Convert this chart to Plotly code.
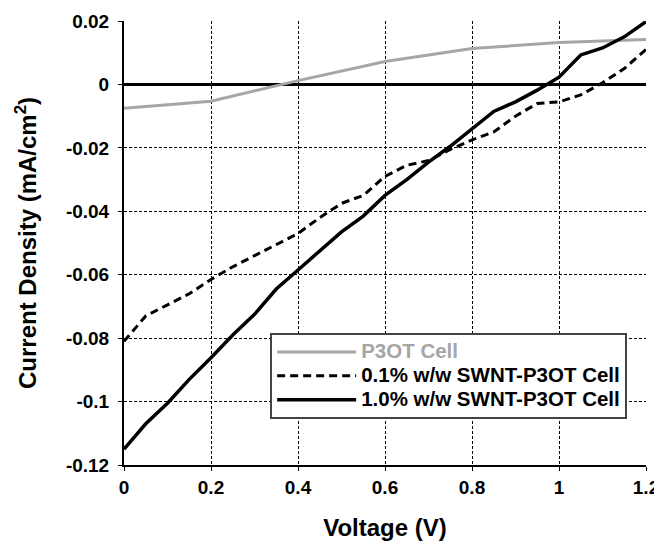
import plotly.graph_objects as go

v_p3ot = [0, 0.2, 0.4, 0.6, 0.8, 1.0, 1.2]
j_p3ot = [-0.0075, -0.0053, 0.0012, 0.0072, 0.0113, 0.0132, 0.0142]

v_01 = [0, 0.05, 0.1, 0.15, 0.2, 0.25, 0.3, 0.35, 0.4, 0.45, 0.5, 0.55, 0.6, 0.65, 0.7,
        0.75, 0.8, 0.85, 0.9, 0.95, 1.0, 1.05, 1.1, 1.15, 1.2]
j_01 = [-0.081, -0.073, -0.0695, -0.066, -0.0615, -0.0575, -0.054, -0.0505, -0.047, -0.042,
        -0.0375, -0.035, -0.029, -0.0255, -0.024, -0.0205, -0.0175, -0.015, -0.010, -0.006,
        -0.0055, -0.0033, 0.0005, 0.005, 0.011]

v_10 = v_01
j_10 = [-0.115, -0.107, -0.1005, -0.093, -0.0862, -0.079, -0.0725, -0.0645, -0.0585, -0.0525,
        -0.0465, -0.0415, -0.035, -0.030, -0.0245, -0.0195, -0.014, -0.0085, -0.0055, -0.0018,
        0.0023, 0.0093, 0.0115, 0.015, 0.0198]

names = ["P3OT Cell", "0.1% w/w SWNT-P3OT Cell", "1.0% w/w SWNT-P3OT Cell"]

x_ticks = [0, 0.2, 0.4, 0.6, 0.8, 1.0, 1.2]
x_labels = ["0", "0.2", "0.4", "0.6", "0.8", "1", "1.2"]
y_ticks = [0.02, 0, -0.02, -0.04, -0.06, -0.08, -0.1, -0.12]
y_labels = ["0.02", "0", "-0.02", "-0.04", "-0.06", "-0.08", "-0.1", "-0.12"]

FONT = "Liberation Sans, Arial, sans-serif"
GRAY = "#a6a6a6"


def lg(text, color="black"):
    return f"<span style='font-size:20.5px;color:{color}'>{text}</span>"


fig = go.Figure()
fig.add_trace(go.Scatter(x=v_p3ot, y=j_p3ot, mode="lines", name=lg(names[0], GRAY),
                         line=dict(color=GRAY, width=3)))
fig.add_trace(go.Scatter(x=v_01, y=j_01, mode="lines", name=lg(names[1]),
                         line=dict(color="black", width=3, dash="8px,5px")))
fig.add_trace(go.Scatter(x=v_10, y=j_10, mode="lines", name=lg(names[2]),
                         line=dict(color="black", width=3.5)))

axis_common = dict(
    showgrid=True, gridcolor="black", gridwidth=1, griddash="3px,2px",
    showline=True, linecolor="black", linewidth=2,
    ticks="outside", ticklen=4, tickcolor="black", automargin=False,
    tickfont=dict(family=FONT, size=19, color="black", weight="bold"),
)

fig.update_xaxes(range=[0, 1.2], tickvals=x_ticks, ticktext=x_labels,
                 title=dict(text="Voltage (V)",
                            font=dict(family=FONT, size=24, color="black", weight="bold"),
                            standoff=23),
                 zeroline=False, **axis_common)
fig.update_yaxes(range=[-0.12, 0.02], tickvals=y_ticks, ticktext=y_labels,
                 ticklabelstandoff=5,
                 title=dict(text="Current Density (mA/cm<sup>2</sup>)",
                            font=dict(family=FONT, size=24, color="black", weight="bold"),
                            standoff=22),
                 zeroline=True, zerolinecolor="black", zerolinewidth=3, **axis_common)

# the page body adds an 8px offset, so the figure is sized to fit the 662x541 window
fig.update_layout(
    width=654, height=533,
    margin=dict(l=116, r=16, t=13, b=76),
    paper_bgcolor="white", plot_bgcolor="white",
    font=dict(family=FONT, color="black"),
    legend=dict(x=0.28, y=0.297, xanchor="left", yanchor="top",
                bgcolor="white", bordercolor="#444444", borderwidth=2,
                font=dict(family=FONT, size=16, color="black", weight="bold"),
                tracegroupgap=0, itemwidth=79),
    showlegend=True,
)

fig.write_html("out.html")
